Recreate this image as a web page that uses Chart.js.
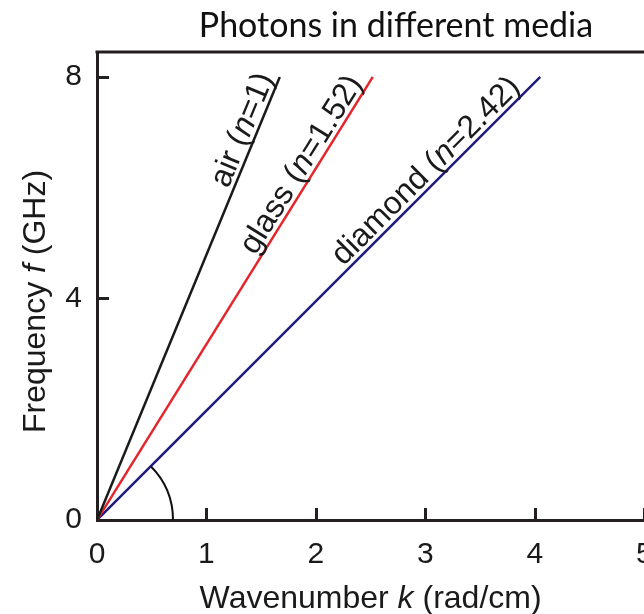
<!DOCTYPE html>
<html>
<head>
<meta charset="utf-8">
<script src="https://cdn.jsdelivr.net/npm/chart.js@4.4.0/dist/chart.umd.min.js"></script>
<style>
  html, body { margin: 0; padding: 0; background: #ffffff; width: 644px; height: 614px; overflow: hidden; }
  #wrap { position: relative; width: 792px; height: 614px; }
  canvas { display: block; }
</style>
</head>
<body>
<div id="wrap"><canvas id="c" width="792" height="614"></canvas></div>
<script>
// ---- data ----
const mediaNames = ['air', 'glass', 'diamond'];
const refractiveIndex = ['1', '1.52', '2.42'];
const startWavenumber = [0, 0, 0];
const startFrequency = [0, 0, 0];
const endWavenumber = [1.67, 2.52, 4.05];   // rad/cm at top of each line
const endFrequency = [8, 8, 8];             // GHz
const xTickValues = [0, 1, 2, 3, 4, 5];
const yTickValues = [0, 4, 8];
const xRange = [0, 6.35];                   // axis continues past the cropped right edge
const yRange = [0, 8.45];
const chartTitle = 'Photons in different media';
const xTitleParts = [['Wavenumber ', false], ['k', true], [' (rad/cm)', false]];
const yTitleParts = [['Frequency ', false], ['f', true], [' (GHz)', false]];

// ---- styles ----
const AXIS_COLOR = '#231f20';
const TEXT_COLOR = '#1a1a1a';
const lineColors = ['#1a1a1a', '#e4252b', '#1e1b7d'];
const FONT = '"Liberation Sans", Arial, sans-serif';
const labelAlong = [0.868, 0.785, 0.765];  // label centre as fraction along each line
const labelPerp = 5;                        // baseline gap above line (px)

function drawRich(ctx, parts, size, align) {
  const widths = parts.map(([t, it]) => {
    ctx.font = (it ? 'italic ' : '') + size + 'px ' + FONT;
    return ctx.measureText(t).width;
  });
  const total = widths.reduce((a, b) => a + b, 0);
  let x = align === 'center' ? -total / 2 : 0;
  ctx.textAlign = 'left';
  ctx.textBaseline = 'alphabetic';
  parts.forEach(([t, it], i) => {
    ctx.font = (it ? 'italic ' : '') + size + 'px ' + FONT;
    ctx.fillText(t, x, 0);
    x += widths[i];
  });
}

const decorPlugin = {
  id: 'decor',
  afterDraw(chart) {
    const ctx = chart.ctx;
    const xs = chart.scales.x, ys = chart.scales.y;
    const ca = chart.chartArea;
    ctx.save();
    ctx.strokeStyle = AXIS_COLOR;
    ctx.lineWidth = 3;
    ctx.lineCap = 'butt';
    // top frame
    ctx.beginPath();
    ctx.moveTo(ca.left - 1.5, ca.top);
    ctx.lineTo(ca.right, ca.top);
    ctx.stroke();
    // inward tick marks
    ctx.beginPath();
    xTickValues.forEach(v => {
      if (v === 0) return;
      const px = Math.round(xs.getPixelForValue(v)) + 0.5;
      ctx.moveTo(px, ca.bottom);
      ctx.lineTo(px, ca.bottom - 12);
    });
    yTickValues.forEach(v => {
      if (v === 0) return;
      const py = Math.round(ys.getPixelForValue(v)) + 0.5;
      ctx.moveTo(ca.left, py);
      ctx.lineTo(ca.left + 12, py);
    });
    ctx.stroke();

    // angle arc between x-axis and diamond line
    const ox = xs.getPixelForValue(0), oy = ys.getPixelForValue(0);
    const d = mediaNames.length - 1;
    const ex = xs.getPixelForValue(endWavenumber[d]), ey = ys.getPixelForValue(endFrequency[d]);
    const ang = Math.atan2(ey - oy, ex - ox);
    ctx.lineWidth = 2;
    ctx.strokeStyle = '#111';
    ctx.beginPath();
    ctx.arc(ox, oy, 76, ang, 0, false);
    ctx.stroke();

    // line labels
    ctx.fillStyle = TEXT_COLOR;
    mediaNames.forEach((m, i) => {
      const x0 = xs.getPixelForValue(startWavenumber[i]), y0 = ys.getPixelForValue(startFrequency[i]);
      const x1 = xs.getPixelForValue(endWavenumber[i]), y1 = ys.getPixelForValue(endFrequency[i]);
      const th = Math.atan2(y1 - y0, x1 - x0);
      const ax = x0 + (x1 - x0) * labelAlong[i];
      const ay = y0 + (y1 - y0) * labelAlong[i];
      ctx.save();
      ctx.translate(ax, ay);
      ctx.rotate(th);
      ctx.translate(0, -labelPerp);
      drawRich(ctx, [[m + ' (', false], ['n', true], ['=' + refractiveIndex[i] + ')', false]], 32, 'center');
      ctx.restore();
    });

    // axis titles
    ctx.save();
    ctx.translate((xs.getPixelForValue(0) + xs.getPixelForValue(5)) / 2, 608);
    drawRich(ctx, xTitleParts, 32, 'center');
    ctx.restore();
    ctx.save();
    ctx.translate(45, (ys.getPixelForValue(0) + ys.getPixelForValue(8)) / 2 + 3);
    ctx.rotate(-Math.PI / 2);
    drawRich(ctx, yTitleParts, 32, 'center');
    ctx.restore();

    ctx.restore();
  }
};

new Chart(document.getElementById('c'), {
  type: 'scatter',
  data: {
    datasets: mediaNames.map((m, i) => ({
      label: m + ' (n=' + refractiveIndex[i] + ')',
      data: [
        { x: startWavenumber[i], y: startFrequency[i] },
        { x: endWavenumber[i], y: endFrequency[i] }
      ],
      showLine: true,
      borderColor: lineColors[i],
      backgroundColor: lineColors[i],
      borderWidth: 2.5,
      pointRadius: 0,
      fill: false
    }))
  },
  options: {
    responsive: false,
    animation: false,
    devicePixelRatio: 1,
    layout: { padding: 0 },
    plugins: {
      legend: { display: false },
      tooltip: { enabled: false },
      title: {
        display: true,
        text: chartTitle,
        color: '#111',
        font: { family: 'Lato', size: 34, weight: 'normal', lineHeight: 1.2 },
        padding: { top: 6, bottom: 5.2 },
        fullSize: true
      }
    },
    scales: {
      x: {
        type: 'linear',
        min: xRange[0],
        max: xRange[1],
        afterBuildTicks: s => { s.ticks = xTickValues.map(v => ({ value: v })); },
        afterFit: s => { s.height = 94; s.paddingLeft = 0; s.paddingRight = 0; },
        grid: { display: false, drawTicks: false },
        border: { display: true, width: 3, color: AXIS_COLOR },
        ticks: { font: { family: FONT, size: 30 }, color: TEXT_COLOR, padding: 17, maxRotation: 0, autoSkip: false },
        title: { display: false, text: 'Wavenumber k (rad/cm)' }
      },
      y: {
        type: 'linear',
        min: yRange[0],
        max: yRange[1],
        afterBuildTicks: s => { s.ticks = yTickValues.map(v => ({ value: v })); },
        afterFit: s => { s.width = 97; },
        grid: { display: false, drawTicks: false },
        border: { display: true, width: 3, color: AXIS_COLOR },
        ticks: { font: { family: FONT, size: 30 }, color: TEXT_COLOR, padding: 15, autoSkip: false },
        title: { display: false, text: 'Frequency f (GHz)' }
      }
    }
  },
  plugins: [decorPlugin]
});
</script>
</body>
</html>
